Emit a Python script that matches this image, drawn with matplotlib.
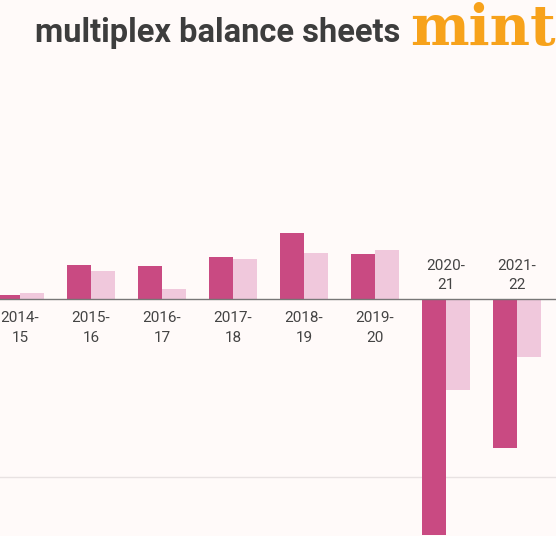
import matplotlib
matplotlib.use("Agg")
import matplotlib.pyplot as plt

years = ["2014-\n15", "2015-\n16", "2016-\n17", "2017-\n18", "2018-\n19", "2019-\n20", "2020-\n21", "2021-\n22"]
series_a = [4, 34, 33, 42, 66, 45, -236, -149]
series_b = [6, 28, 10, 40, 46, 49, -91, -58]

bg = "#fffaf9"
fig = plt.figure(figsize=(5.56, 5.36), dpi=100, facecolor=bg)
ax = fig.add_axes([0, 0, 1, 396/536])
ax.set_facecolor(bg)
x = list(range(len(years)))
w = 0.34
ax.axhline(-178, color="#e8e2e2", lw=1, zorder=0)
ax.bar([i - w/2 for i in x], series_a, width=w, color="#c94a82", zorder=2)
ax.bar([i + w/2 for i in x], series_b, width=w, color="#f0c8dc", zorder=2)
ax.axhline(0, color="#777777", lw=1, zorder=3)
ax.set_xlim(-0.282, 7.55)
ax.set_ylim(-237, 159)
for i, lab in enumerate(years):
    va = max(series_a[i], series_b[i])
    if va > 0:
        ax.text(i, -12, lab, ha="center", va="top", fontsize=11, color="#444444", family="Roboto", linespacing=1.5)
    else:
        ax.text(i, 7, lab, ha="center", va="bottom", fontsize=11, color="#444444", family="Roboto", linespacing=1.5)
for s in ax.spines.values():
    s.set_visible(False)
ax.set_xticks([]); ax.set_yticks([])
fig.text(35/556, 1 - 33/536, "multiplex balance sheets", fontsize=23.5, fontweight="bold",
         color="#3d3d3d", family="Roboto", va="center", ha="left")
fig.text(556/556, 1 - 30/536, "mint", fontsize=40, fontweight="bold", color="#f7a21b",
         family="DejaVu Serif", va="center", ha="right")
fig.savefig("out.png", dpi=100, facecolor=bg)
